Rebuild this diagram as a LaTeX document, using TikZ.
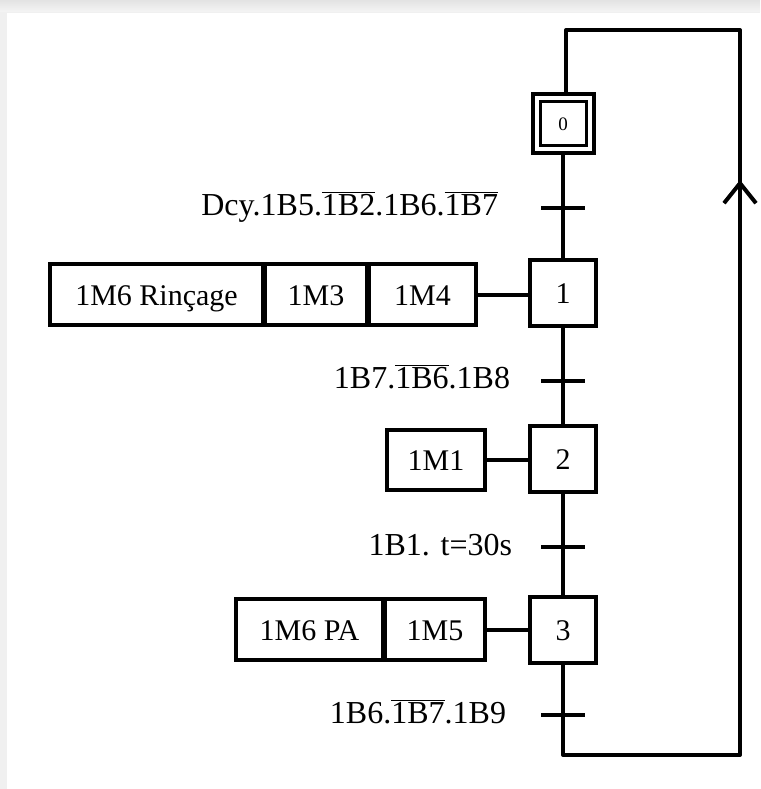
\documentclass[tikz,border=0pt]{standalone}
\usepackage{fontspec}
\setmainfont{Liberation Serif}
\usetikzlibrary{arrows.meta}
\newcommand{\ovl}[1]{$\overline{\hbox{#1}}$}
\tikzset{
  every node/.style={font=\fontsize{30}{34}\selectfont, inner sep=0pt, outer sep=0pt, text height=21pt, text depth=0pt},
  ln/.style={line width=4pt},
  stepbox/.style={draw, line width=4pt, minimum width=66pt, minimum height=66pt},
  actbox/.style={draw, line width=4pt, minimum height=61pt},
  tick/.style={line width=4pt},
  lbl/.style={anchor=east, font=\fontsize{32}{36}\selectfont, text height=24pt},
}
\begin{document}
\begin{tikzpicture}[x=1pt,y=-1pt]
\useasboundingbox (0,0) rectangle (760,789);
\fill[gray!12] (0,0) rectangle (760,789);
\shade[top color=gray!22, bottom color=gray!8] (0,0) rectangle (760,12);
\fill[white] (7,13) rectangle (760,789);

% steps
\node[draw, line width=4pt, minimum width=61pt, minimum height=59pt] (s0) at (563,123.5) {};
\node[draw, line width=3pt, minimum width=46pt, minimum height=44pt, font=\fontsize{19}{22}\selectfont, text height=13pt] (s0in) at (563,123.5) {0};
\node[stepbox] (s1) at (563,293) {1};
\node[stepbox] (s2) at (563,459) {2};
\node[stepbox] (s3) at (563,630) {3};

% actions step 1
\node[actbox, minimum width=107pt, anchor=east] (a1c) at (476,294.5) {1M4};
\node[actbox, minimum width=102pt, anchor=east] (a1b) at ([xshift=-2pt]a1c.west) {1M3};
\node[actbox, minimum width=213pt, anchor=east] (a1a) at ([xshift=-2pt]a1b.west) {1M6 Rinçage};
% action step 2
\node[actbox, minimum width=98pt, minimum height=60pt, anchor=east] (a2) at (485,460) {1M1};
% actions step 3
\node[actbox, minimum width=100pt, anchor=east] (a3b) at (485,629.5) {1M5};
\node[actbox, minimum width=147pt, anchor=east] (a3a) at ([xshift=-2pt]a3b.west) {1M6 PA};

% action links
\draw[ln] (a1c.east) -- (a1c.east -| s1.west);
\draw[ln] (a2.east) -- (a2.east -| s2.west);
\draw[ln] (a3b.east) -- (a3b.east -| s3.west);

% vertical links
\draw[ln] (s0.south) -- (s1.north);
\draw[ln] (s1.south) -- (s2.north);
\draw[ln] (s2.south) -- (s3.north);

% transitions
\coordinate (t1) at (563,208);
\coordinate (t2) at (563,381);
\coordinate (t3) at (563,547);
\coordinate (t4) at (563,715);
\foreach \t in {t1,t2,t3,t4}{
  \draw[tick] ([xshift=-22pt]\t) -- ([xshift=22pt]\t);
}
\node[lbl] (l1) at (498,203) {Dcy.1B5.\ovl{1B2}.1B6.\ovl{1B7}};
\node[lbl] (l2) at (510,376) {1B7.\ovl{1B6}.1B8};
\node[lbl] (l3) at (512,543) {1B1. t=30s};
\node[lbl] (l4) at (506,711) {1B6.\ovl{1B7}.1B9};

% loop back
\coordinate (c1) at (563,755);
\coordinate (c2) at (740,755);
\coordinate (c3) at (740,30);
\coordinate (c4) at (566,30);
\draw[ln, line join=round] (s3.south) -- (c1) -- (c2) -- (c3) -- (c4) -- (s0.north -| c4);
\coordinate (ar) at (740,180);
\draw[ln, -{Straight Barb[length=20pt,width=32pt,line width=4pt]}] (c2) -- (ar);
\end{tikzpicture}
\end{document}
